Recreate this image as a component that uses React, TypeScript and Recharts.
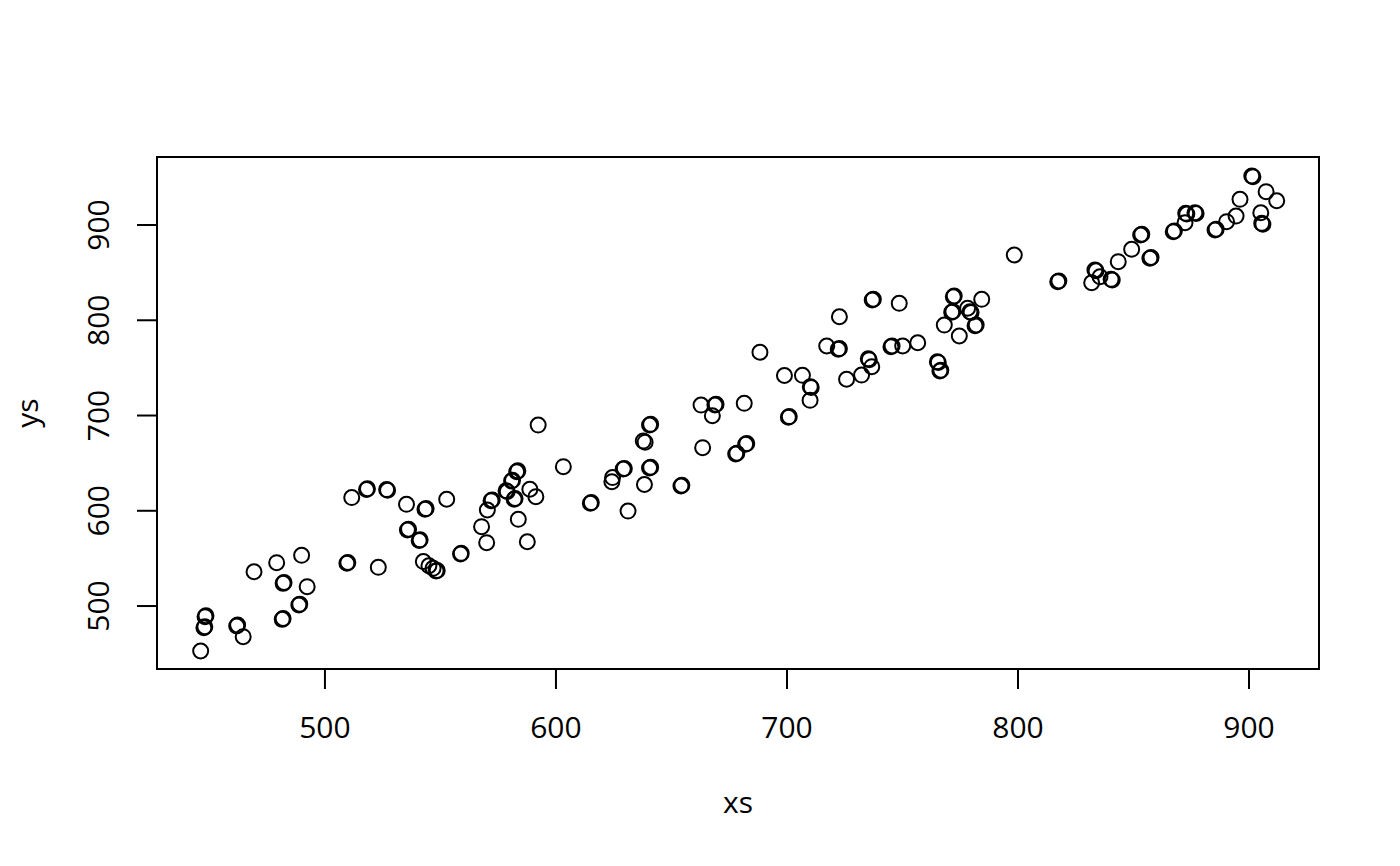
import React from 'react';
import { ScatterChart, Scatter, XAxis, YAxis, ReferenceArea } from 'recharts';

// point coordinates (doubled rings are two nearly equal points)
const xs = [
  446.2, 448.1, 448.5, 447.6, 448.0, 461.8, 462.2, 464.6, 469.3, 479.1,
  489.9, 481.9, 482.3, 492.3, 481.5, 481.9, 488.7, 489.1, 509.5, 509.9,
  523.1, 511.6, 518.0, 518.4, 526.7, 527.1, 535.3, 543.3, 543.8, 552.7,
  535.7, 536.2, 540.8, 541.2, 542.6, 545.0, 546.8, 548.1, 548.6, 558.7,
  559.0, 567.8, 570.0, 570.3, 571.9, 572.4, 578.4, 578.9, 580.8, 581.2,
  583.0, 583.5, 581.9, 582.3, 588.7, 591.3, 583.7, 587.6, 592.3, 603.2,
  614.9, 615.3, 624.5, 624.2, 629.1, 629.6, 631.2, 638.3, 637.8, 638.6,
  640.5, 641.0, 640.5, 641.0, 654.1, 654.5, 663.5, 662.8, 668.8, 669.3,
  667.7, 681.5, 688.3, 677.8, 678.3, 682.1, 682.6, 700.6, 701.0, 698.9,
  706.7, 710.1, 710.5, 710.0, 717.2, 722.7, 722.2, 722.7, 725.8, 732.3,
  735.2, 735.6, 736.7, 736.9, 737.4, 745.0, 745.5, 748.6, 750.1, 756.6,
  765.1, 765.5, 766.2, 766.6, 768.1, 772.0, 772.4, 771.3, 771.8, 774.6,
  778.2, 779.2, 779.7, 781.4, 781.9, 784.3, 798.4, 817.2, 817.7, 831.9,
  833.3, 833.8, 835.5, 840.3, 840.8, 843.4, 849.2, 853.1, 853.6, 857.1,
  857.6, 867.2, 867.7, 872.3, 872.6, 873.1, 876.6, 877.1, 885.3, 885.8,
  890.3, 894.4, 896.1, 901.2, 901.7, 905.1, 905.5, 906.0, 907.4, 912.0,
];

const ys = [
  452.8, 488.8, 489.8, 477.2, 478.3, 479.0, 480.0, 467.8, 536.0, 545.5,
  553.2, 523.8, 524.7, 520.3, 486.0, 486.9, 501.0, 502.0, 544.8, 545.7,
  540.6, 613.9, 622.3, 623.2, 622.3, 621.5, 606.8, 601.5, 602.3, 612.1,
  579.8, 580.7, 568.8, 569.5, 546.7, 542.3, 539.6, 536.7, 537.4, 554.6,
  555.3, 583.3, 566.5, 600.8, 610.6, 611.4, 621.1, 620.2, 631.2, 632.0,
  641.0, 641.9, 612.0, 612.9, 622.6, 614.8, 591.0, 567.5, 690.0, 646.3,
  607.8, 608.6, 634.9, 630.5, 643.8, 644.5, 599.7, 627.6, 673.2, 672.0,
  690.0, 690.8, 644.9, 645.7, 626.0, 626.8, 666.2, 711.0, 711.0, 711.8,
  699.8, 712.8, 766.4, 659.6, 660.4, 669.8, 670.6, 698.1, 698.9, 742.0,
  742.2, 730.3, 729.5, 716.0, 773.0, 803.7, 769.5, 770.3, 738.1, 742.5,
  759.5, 758.6, 751.3, 821.3, 822.1, 772.2, 773.0, 817.8, 773.0, 776.4,
  756.5, 755.7, 746.7, 747.5, 795.0, 824.7, 825.5, 808.4, 809.2, 783.5,
  812.6, 809.0, 808.2, 794.3, 795.1, 822.0, 868.5, 840.5, 841.3, 839.4,
  852.8, 851.9, 845.7, 843.0, 842.2, 861.5, 874.5, 889.5, 890.3, 865.1,
  865.9, 893.0, 893.8, 902.4, 912.3, 911.5, 912.9, 912.1, 894.8, 895.6,
  903.5, 909.4, 927.0, 951.5, 950.7, 912.9, 901.8, 900.9, 935.0, 925.5,
];

const xTicks = [500, 600, 700, 800, 900];
const yTicks = [500, 600, 700, 800, 900];
const xDomain = [427.3, 930.3];
const yDomain = [433.9, 971.4];

const FONT = '"Open Sans", "Noto Sans", sans-serif';

const points = xs.map((x, i) => ({ x, y: ys[i] }));

const Ring = (props: any) => (
  <circle cx={props.cx} cy={props.cy} r={7.5} fill="none" stroke="#000" strokeWidth={2} />
);

const XTick = (props: any) => (
  <text x={props.x} y={738} textAnchor="middle" fontSize={30} fontFamily={FONT} fill="#000">
    {props.payload.value}
  </text>
);

const YTick = (props: any) => (
  <text
    x={109}
    y={props.y}
    transform={`rotate(-90 109 ${props.y})`}
    textAnchor="middle"
    fontSize={30}
    fontFamily={FONT}
    fill="#000"
  >
    {props.payload.value}
  </text>
);

export default function App() {
  return (
    <div style={{ position: 'absolute', left: 0, top: 0, width: 1400, height: 866, background: '#fff' }}>
      <ScatterChart width={1400} height={866} margin={{ top: 157, right: 81, bottom: 0, left: 0 }}>
        <XAxis
          dataKey="x"
          type="number"
          domain={xDomain}
          allowDataOverflow
          ticks={xTicks}
          height={197}
          axisLine={false}
          tickSize={20}
          tickLine={{ stroke: '#000', strokeWidth: 2 }}
          tick={<XTick />}
        />
        <YAxis
          dataKey="y"
          type="number"
          domain={yDomain}
          allowDataOverflow
          ticks={yTicks}
          width={157}
          axisLine={false}
          tickSize={20}
          tickLine={{ stroke: '#000', strokeWidth: 2 }}
          tick={<YTick />}
        />
        <ReferenceArea
          x1={xDomain[0]}
          x2={xDomain[1]}
          y1={yDomain[0]}
          y2={yDomain[1]}
          fill="none"
          fillOpacity={0}
          stroke="#000"
          strokeWidth={2}
        />
        <Scatter data={points} shape={<Ring />} isAnimationActive={false} />
      </ScatterChart>
      <svg width={1400} height={866} style={{ position: 'absolute', left: 0, top: 0, pointerEvents: 'none' }}>
        <text x={738} y={813} textAnchor="middle" fontSize={30} fontFamily={FONT} fill="#000">xs</text>
        <text
          x={38}
          y={413}
          transform="rotate(-90 38 413)"
          textAnchor="middle"
          fontSize={30}
          fontFamily={FONT}
          fill="#000"
        >
          ys
        </text>
      </svg>
    </div>
  );
}
